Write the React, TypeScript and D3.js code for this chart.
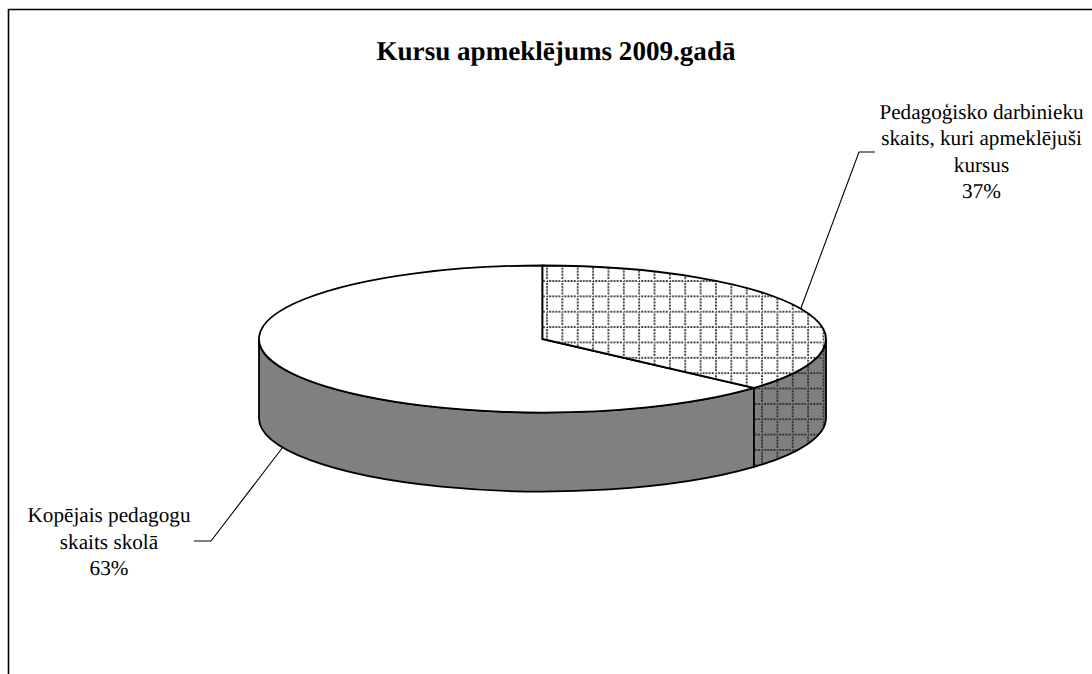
import React from "react";
import * as d3 from "d3";

const title = "Kursu apmeklējums 2009.gadā";
const values = [36.6, 63.4];
const labelLines = [
  ["Pedagoģisko darbinieku", "skaits, kuri apmeklējuši", "kursus", "37%"],
  ["Kopējais pedagogu", "skaits skolā", "63%"],
];

const W = 1092, H = 674;
const cx = 542.5, cy = 339, rx = 283.5, ry = 73.5, depth = 79;
const x = d3.scaleLinear().domain([-1, 1]).range([cx - rx, cx + rx]);
const y = d3.scaleLinear().domain([-1, 1]).range([cy - ry, cy + ry]);
const px = (a: number) => x(Math.sin(a));
const py = (a: number) => y(-Math.cos(a));

const slices = d3.pie<number>().sort(null)(values);
const TILE = 15.36, STEP = TILE / 5, DOT = 1.8;

function topPath(a0: number, a1: number) {
  const large = a1 - a0 > Math.PI ? 1 : 0;
  return `M${cx},${cy}L${px(a0)},${py(a0)}A${rx},${ry} 0 ${large} 1 ${px(a1)},${py(a1)}Z`;
}
function sidePath(a0: number, a1: number) {
  const s = Math.max(a0, Math.PI / 2), e = Math.min(a1, Math.PI * 1.5);
  return `M${px(s)},${py(s)}A${rx},${ry} 0 0 1 ${px(e)},${py(e)}L${px(e)},${py(e) + depth}A${rx},${ry} 0 0 0 ${px(s)},${py(s) + depth}Z`;
}

function Dots({ id }: { id: string }) {
  const steps = d3.range(5);
  return (
    <pattern id={id} patternUnits="userSpaceOnUse" x={547} y={281} width={TILE} height={TILE}>
      {steps.map((i) => (
        <rect key={"h" + i} x={i * STEP - DOT / 2} y={-DOT / 2} width={DOT} height={DOT} fill="#222" />
      ))}
      {steps.map((i) => (
        <rect key={"hb" + i} x={i * STEP - DOT / 2} y={TILE - DOT / 2} width={DOT} height={DOT} fill="#222" />
      ))}
      {steps.map((i) => (
        <rect key={"v" + i} x={-DOT / 2} y={i * STEP - DOT / 2} width={DOT} height={DOT} fill="#222" />
      ))}
      {steps.map((i) => (
        <rect key={"vb" + i} x={TILE - DOT / 2} y={i * STEP - DOT / 2} width={DOT} height={DOT} fill="#222" />
      ))}
    </pattern>
  );
}

const font = "'Liberation Serif', serif";
const line = d3.line();

export default function App() {
  const a = slices[0];
  const b = slices[1];
  return (
    <svg width={W} height={H} viewBox={`0 0 ${W} ${H}`} textRendering="geometricPrecision" style={{ position: "absolute", left: 0, top: 0, background: "#fff" }}>
      <defs>
        <Dots id="dots" />
      </defs>
      <path d="M1092,9.5H8.5V674" fill="none" stroke="#000" strokeWidth={1.6} />
      <text x={556} y={60} textAnchor="middle" fontFamily={font} fontWeight="bold" fontSize={27.1} fill="#000">{title}</text>

      <path d={sidePath(b.startAngle, b.endAngle)} fill="#808080" stroke="#000" strokeWidth={1.8} />
      <path d={sidePath(a.startAngle, a.endAngle)} fill="#808080" />
      <path d={sidePath(a.startAngle, a.endAngle)} fill="url(#dots)" stroke="#000" strokeWidth={1.8} />
      <path d={topPath(b.startAngle, b.endAngle)} fill="#fff" stroke="#000" strokeWidth={1.8} />
      <path d={topPath(a.startAngle, a.endAngle)} fill="#fff" />
      <path d={topPath(a.startAngle, a.endAngle)} fill="url(#dots)" stroke="#000" strokeWidth={1.8} />

      <path d={line([[801, 308], [859, 152], [875, 152]]) ?? ""} fill="none" stroke="#000" strokeWidth={1.1} />
      <path d={line([[283, 447], [211, 541], [194, 541]]) ?? ""} fill="none" stroke="#000" strokeWidth={1.1} />

      <g fontFamily={font} fontSize={21.2} fill="#000" textAnchor="middle">
        {labelLines[0].map((t, i) => (
          <text key={t} x={981.5} y={119 + i * 26.4}>{t}</text>
        ))}
        {labelLines[1].map((t, i) => (
          <text key={t} x={109} y={522 + i * 26.6}>{t}</text>
        ))}
      </g>
    </svg>
  );
}
